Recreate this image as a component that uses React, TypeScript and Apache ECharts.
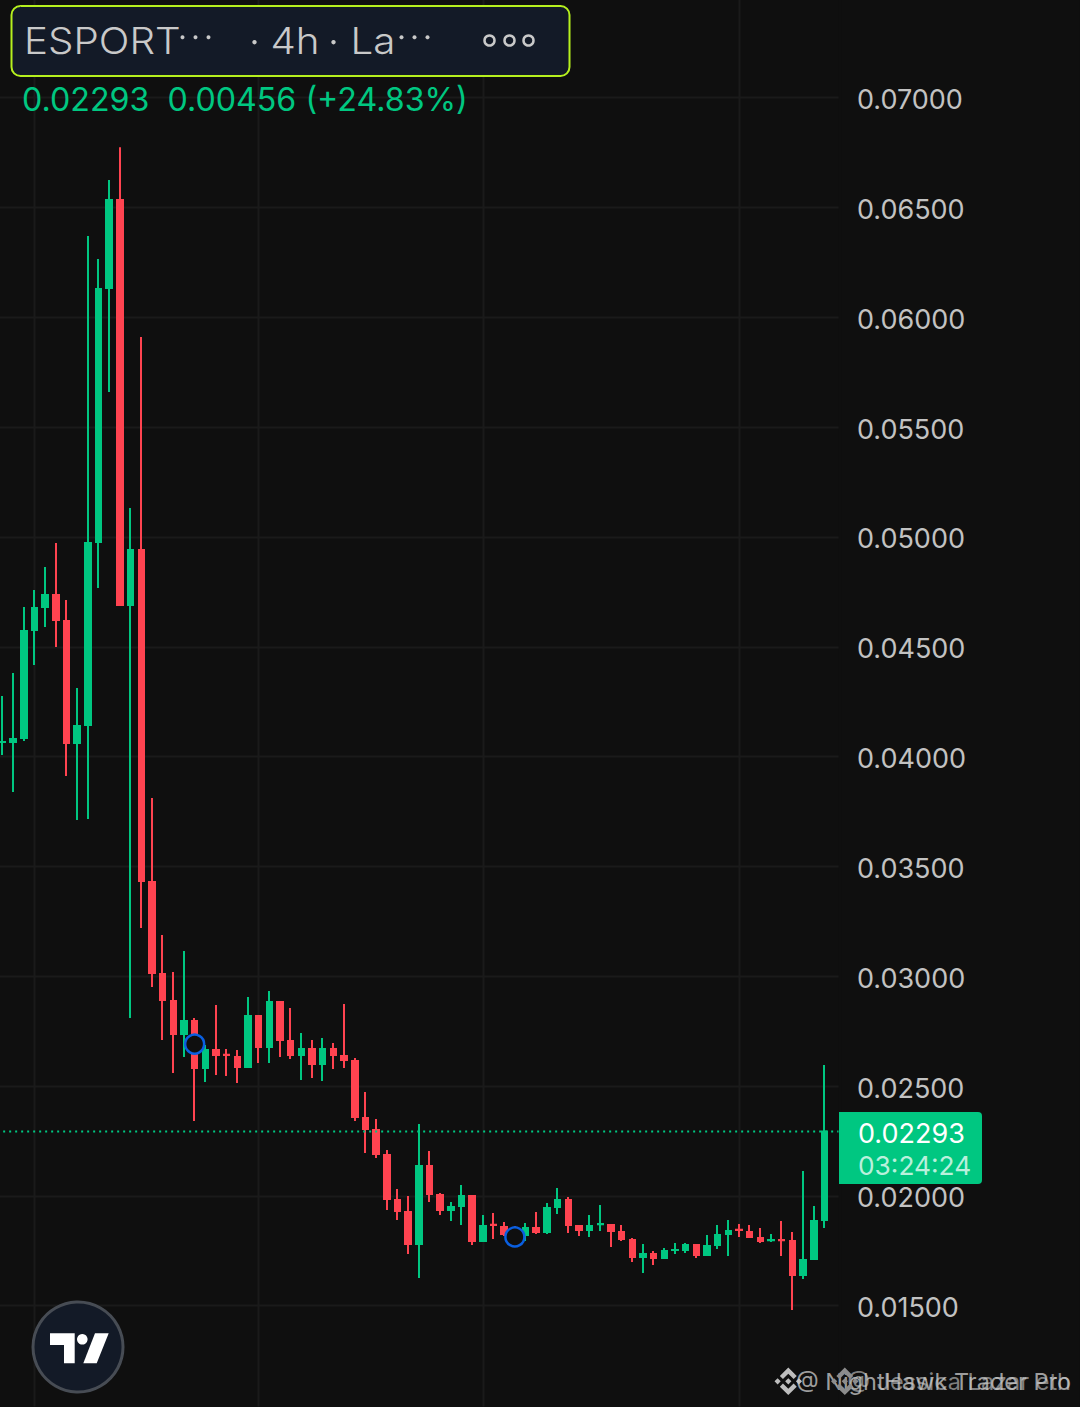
import React, { useEffect, useRef } from "react";
import * as echarts from "echarts";

const BG = "#0f0f0f";
const GREEN = "#00c781";
const RED = "#ff4350";
const GRID = "#1a1a1a";
const FONT = "Inter";

const priceTicks = { min: 0.01, max: 0.075, step: 0.005 };
const lastClose = 0.02293;

// [open, close, low, high] in units of 0.00001
const candlesRaw: number[][] = [
  [4066, 4067, 4007, 4276], [4066, 4080, 3839, 4381], [4085, 4572, 4071, 4681], [4576, 4677, 4417, 4759],
  [4681, 4736, 4590, 4863], [4736, 4622, 4499, 4973], [4617, 4062, 3912, 4713], [4062, 4139, 3711, 4312],
  [4144, 4973, 3716, 6370], [4977, 6129, 4768, 6266], [6134, 6534, 5660, 6625], [6534, 4690, 4686, 6775],
  [4690, 4941, 2810, 5132], [4941, 3434, 3220, 5910], [3429, 3015, 2951, 3812], [3010, 2892, 2710, 3188],
  [2887, 2737, 2559, 3019], [2737, 2796, 2632, 3115], [2796, 2582, 2341, 2810], [2582, 2664, 2519, 2687],
  [2664, 2641, 2550, 2869], [2642, 2641, 2546, 2669], [2632, 2587, 2514, 2664], [2587, 2819, 2582, 2906],
  [2819, 2678, 2605, 2824], [2678, 2883, 2605, 2933], [2883, 2710, 2632, 2887], [2705, 2641, 2623, 2855],
  [2641, 2669, 2528, 2742], [2669, 2600, 2537, 2710], [2600, 2669, 2523, 2719], [2669, 2641, 2578, 2696],
  [2637, 2619, 2582, 2874], [2614, 2359, 2341, 2628], [2355, 2305, 2195, 2473], [2300, 2191, 2172, 2350],
  [2186, 1986, 1936, 2209], [1981, 1931, 1890, 2031], [1927, 1781, 1735, 1999], [1781, 2136, 1626, 2327],
  [2136, 2009, 1972, 2204], [2004, 1936, 1913, 2013], [1936, 1949, 1886, 1972], [1954, 1999, 1867, 2050],
  [1999, 1795, 1776, 2004], [1795, 1863, 1790, 1913], [1868, 1867, 1804, 1922], [1858, 1826, 1817, 1881],
  [1845, 1831, 1799, 1863], [1822, 1854, 1795, 1877], [1854, 1836, 1826, 1927], [1836, 1945, 1826, 1968],
  [1949, 1981, 1917, 2036], [1981, 1867, 1831, 1995], [1863, 1845, 1817, 1867], [1845, 1863, 1813, 1913],
  [1871, 1872, 1840, 1958], [1867, 1840, 1767, 1872], [1836, 1804, 1795, 1867], [1799, 1722, 1699, 1808],
  [1722, 1735, 1649, 1781], [1735, 1717, 1685, 1749], [1717, 1749, 1713, 1763], [1753, 1754, 1735, 1785],
  [1754, 1776, 1740, 1785], [1776, 1731, 1717, 1781], [1731, 1772, 1726, 1822], [1776, 1822, 1758, 1867],
  [1826, 1840, 1726, 1890], [1846, 1845, 1813, 1872], [1836, 1813, 1808, 1867], [1808, 1795, 1785, 1854],
  [1798, 1799, 1790, 1826], [1799, 1798, 1726, 1886], [1795, 1640, 1480, 1836], [1640, 1708, 1622, 2113],
  [1713, 1886, 1708, 1954], [1890, 2293, 1854, 2596],
];

const candles = candlesRaw.map((c) => c.map((v) => v / 100000));
// one empty band closes the plot on the right
const categories = [...candles.map((_, i) => `C${i}`), "end"];
const dayLines = ["C3", "C24", "C45", "C69"];
const markers: [string, number][] = [["C18", 0.02691], ["C48", 0.01813]];

const headerTexts = { symbol: "ESPORT", interval: "4h", source: "La", values: "0.02293  0.00456 (+24.83%)" };
const tag = { price: "0.02293", countdown: "03:24:24" };
const watermarks = ["@ NightHawk Trader Pro", "@ Jessica Lazar eth"];

const BNB =
  "M16.624 13.9202l2.7175 2.7154-7.353 7.353-7.353-7.352 2.7175-2.7164 4.6355 4.6595 4.6356-4.6595zm4.6366-4.6366L24 12l-2.7154 2.7164L18.5682 12l2.6924-2.7164zm-9.272.001l2.7163 2.6914-2.7164 2.7174v-.001L9.2721 12l2.7164-2.7154zm-9.2722-.001L5.4088 12l-2.6914 2.6924L0 12l2.7164-2.7164zM11.9885.0115l7.353 7.329-2.7174 2.7154-4.6356-4.6356-4.6355 4.6595-2.7174-2.7154 7.353-7.353z";
echarts.graphic.registerShape("bnb", (echarts.graphic as any).extendPath(BNB, {}));

const txt = (x: number, y: number, text: string, fontSize: number, fill: string, extra: any = {}, scaleX = 1) => ({
  type: "text",
  x,
  y,
  scaleX,
  z: 20,
  silent: true,
  style: { text, fontSize, fill, fontFamily: FONT, verticalAlign: "middle", align: "left", ...extra },
});

const dot = (cx: number, cy: number, r: number, fill: string) => ({
  type: "circle", z: 20, silent: true, shape: { cx, cy, r }, style: { fill },
});

export default function App() {
  const ref = useRef<HTMLDivElement>(null);
  useEffect(() => {
    document.body.style.margin = "0";
    document.body.style.background = BG;
    const chart = echarts.init(ref.current!, undefined, { renderer: "svg" });
    const headerFill = "#c9c9c9";
    chart.setOption({
      animation: false,
      backgroundColor: BG,
      grid: { left: -2.34, top: -11.6, width: 843.3, height: 1427.6, containLabel: false, outerBoundsMode: "none" },
      xAxis: {
        type: "category",
        data: categories,
        boundaryGap: true,
        axisLine: { show: false },
        axisTick: { show: false },
        axisLabel: { show: false },
        splitLine: {
          show: true,
          alignWithLabel: true,
          interval: (_: number, v: string) => dayLines.includes(v),
          lineStyle: { color: GRID, width: 2 },
        },
      },
      yAxis: {
        type: "value",
        position: "right",
        min: priceTicks.min,
        max: priceTicks.max,
        interval: priceTicks.step,
        axisLine: { show: false },
        axisTick: { show: false },
        axisLabel: {
          show: true,
          margin: 16.5,
          align: "left",
          verticalAlign: "top",
          lineHeight: 4,
          color: "#c2c2c2",
          fontFamily: FONT,
          fontSize: 27,
          showMinLabel: true,
          showMaxLabel: false,
          formatter: (v: number) => v.toFixed(5),
        },
        splitLine: { show: true, lineStyle: { color: GRID, width: 2 } },
      },
      series: [
        {
          type: "candlestick",
          data: candles,
          barWidth: 6,
          itemStyle: { color: GREEN, color0: RED, borderColor: GREEN, borderColor0: RED, borderWidth: 2 },
          markLine: {
            silent: true,
            symbol: "none",
            precision: 5,
            label: { show: false },
            data: [{ yAxis: lastClose }],
            lineStyle: { color: GREEN, width: 2, type: [2, 4], opacity: 1 },
          },
        },
        {
          type: "scatter",
          data: markers,
          symbol: "circle",
          symbolSize: 19,
          z: 5,
          itemStyle: { color: BG, borderColor: "#0a5fe0", borderWidth: 2.5, opacity: 1 },
        },
      ],
      graphic: [
        // covers the spare width of the last empty band
        { type: "rect", z: 10, silent: true, shape: { x: 839, y: 0, width: 3, height: 1407 }, style: { fill: BG } },
        {
          type: "rect", z: 19, silent: true,
          shape: { x: 12, y: 6.5, width: 558, height: 70, r: 9 },
          style: { fill: "#131a27", stroke: "#b6f01e", lineWidth: 2 },
        },
        txt(24.5, 41, headerTexts.symbol, 37, headerFill, { fontWeight: 300 }, 1.09),
        dot(183, 37.7, 2, headerFill),
        dot(196, 37.7, 2, headerFill),
        dot(209, 37.7, 2, headerFill),
        dot(255, 42.7, 2.2, headerFill),
        dot(334, 42.7, 2.2, headerFill),
        dot(402, 37.7, 2, headerFill),
        dot(415, 37.7, 2, headerFill),
        dot(428, 37.7, 2, headerFill),
        txt(271, 41, headerTexts.interval, 37, headerFill, { fontWeight: 300 }, 1.09),
        txt(351, 41, headerTexts.source, 37, headerFill, { fontWeight: 300 }, 1.09),
        ...[490, 510, 529].map((cx) => ({
          type: "circle", z: 20, silent: true, shape: { cx, cy: 41, r: 5 },
          style: { fill: "transparent", stroke: headerFill, lineWidth: 2.5 },
        })),
        txt(22.5, 100, headerTexts.values, 32.2, GREEN, { fontWeight: 400 }),

        // last price tag
        {
          type: "rect", z: 19, silent: true,
          shape: { x: 839.5, y: 1112.5, width: 143, height: 72, r: [0, 4, 4, 0] },
          style: { fill: GREEN },
        },
        txt(858.5, 1134, tag.price, 27, "#ffffff"),
        txt(858.5, 1166, tag.countdown, 26.3, "#b9f0dc"),

        // logo badge
        {
          type: "circle", z: 19, silent: true, shape: { cx: 78.5, cy: 1347.5, r: 45 },
          style: { fill: "#131a27", stroke: "#474c54", lineWidth: 3 },
        },
        {
          type: "polygon", z: 20, silent: true,
          shape: { points: [[50.5, 1333.8], [75.2, 1333.8], [75.2, 1363.8], [64.5, 1363.8], [64.5, 1345.5], [50.5, 1345.5]] },
          style: { fill: "#ffffff" },
        },
        { type: "circle", z: 20, silent: true, shape: { cx: 82.8, cy: 1339.8, r: 5.3 }, style: { fill: "#ffffff" } },
        {
          type: "polygon", z: 20, silent: true,
          shape: { points: [[95.5, 1333.8], [109.2, 1333.8], [97.2, 1363.8], [83.8, 1363.8]] },
          style: { fill: "#ffffff" },
        },

        // watermarks
        { type: "bnb", x: 775, y: 1368, scaleX: 1.15, scaleY: 1.15, z: 20, silent: true, style: { fill: "#bdbdbd" } },
        { type: "bnb", x: 831.5, y: 1368, scaleX: 1.15, scaleY: 1.15, z: 21, silent: true, style: { fill: "#8c8c8c" } },
        txt(1071.5, 1381.5, watermarks[0], 23.5, "rgba(205,205,205,0.75)", { align: "right" }),
        txt(1071.5, 1381.5, watermarks[1], 23.5, "rgba(205,205,205,0.6)", { align: "right" }),
      ],
    });
    return () => chart.dispose();
  }, []);
  return (
    <div
      ref={ref}
      style={{
        position: "absolute",
        left: 0,
        top: 0,
        width: 1080,
        height: 1407,
        overflow: "hidden",
        transform: "translate(-0.5px, -0.5px)",
      }}
    />
  );
}
